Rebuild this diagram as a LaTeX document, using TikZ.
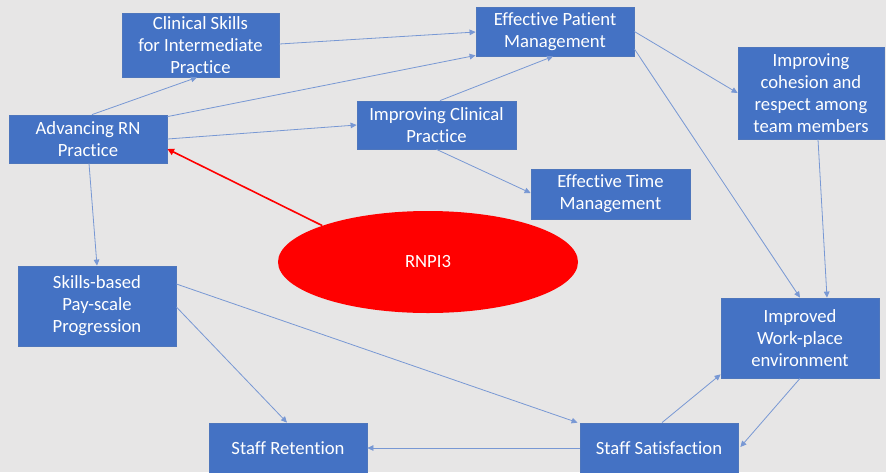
\documentclass[tikz,border=0pt]{standalone}
\usepackage{fontspec}
\setmainfont[Ligatures={NoCommon}]{Carlito}
\usetikzlibrary{arrows.meta,calc,shapes.geometric}
\definecolor{bg}{RGB}{231,230,230}
\definecolor{boxfill}{RGB}{68,114,196}
\definecolor{boxline}{RGB}{78,118,188}
\definecolor{conn}{RGB}{120,152,212}
\begin{document}
\begin{tikzpicture}[x=0.75pt,y=-0.75pt,
  bx/.style 2 args={draw=boxline, line width=0.6pt, fill=boxfill, text=white, align=center,
    inner sep=0pt, font=\fontsize{14}{16.5}\selectfont,
    minimum width=#1*0.75pt, minimum height=#2*0.75pt},
  conn/.style={draw=conn, line width=0.6pt, -{Triangle[length=4.5pt,width=4.2pt]}},
  redconn/.style={draw=red, line width=1.2pt, -{Triangle[length=5pt,width=5pt]}}]
\useasboundingbox[fill=bg] (0,0) rectangle (886,472);

\node[bx={157}{64}] (cs)  at (200.5,45)  {Clinical Skills\\for Intermediate\\Practice};
\node[bx={158}{48}] (arn) at (88,139)    {Advancing RN\\Practice};
\node[bx={159}{48}] (icp) at (436.5,125) {Improving Clinical\\Practice};
\node[bx={158}{49}] (epm) at (555,31.5)  {Effective Patient\\Management};
\node[bx={146}{92}] (irc) at (811,93)    {Improving\\cohesion and\\respect among\\team members};
\node[bx={159}{50}] (etm) at (610.5,194)  {Effective Time\\Management};
\node[bx={158}{80}] (sbp) at (97,306)    {Skills-based\\Pay-scale\\Progression};
\node[bx={158}{50}] (sr)  at (288,448)   {Staff Retention};
\node[bx={158}{80}] (iwe) at (800,338)   {Improved\\Work-place\\environment};
\node[bx={158}{50}] (ss)  at (659,448)   {Staff Satisfaction};
\node[ellipse, fill=red, draw=none, text=white, minimum width=300*0.75pt, minimum height=102*0.75pt,
  inner sep=0pt, font=\fontsize{14}{16.5}\selectfont] (ell) at (428,262) {RNPI3};

\draw[conn] ($(arn.north)+(4,0)$) -- ($(cs.south)+(-3.5,0)$);
\draw[conn] ($(cs.east)+(0,-1)$) -- ($(epm.west)+(0,0.5)$);
\draw[conn] ($(arn.north east)+(0,2)$) -- ($(epm.south west)+(0,-1)$);
\draw[conn] (arn.east) -- (icp.west);
\draw[conn] ($(icp.north)+(3.5,0)$) -- ($(epm.south)+(-2,0)$);
\draw[conn] (icp.south) -- ($(etm.west)+(0,-1)$);
\draw[conn] (epm.east) -- (irc.west);
\draw[conn] ($(epm.east)+(0,17.5)$) -- (iwe.north);
\draw[conn] ($(irc.south)+(7,0)$) -- ($(iwe.north)+(27,0)$);
\draw[conn] ($(arn.south)+(1,0)$) -- (sbp.north);
\draw[conn] ($(sbp.east)+(0,-22)$) -- ($(ss.north west)+(-2,0)$);
\draw[conn] ($(sbp.east)+(0,1)$) -- ($(sr.north)+(-1,0)$);
\draw[conn] (ss.west) -- (sr.east);
\draw[conn] ($(ss.north)+(3,0)$) -- ($(iwe.south west)+(0,-4)$);
\draw[conn] (iwe.south) -- ($(ss.east)+(2,-1)$);
\draw[redconn] (ell.161) -- ($(arn.east)+(0,10)$);
\end{tikzpicture}
\end{document}
